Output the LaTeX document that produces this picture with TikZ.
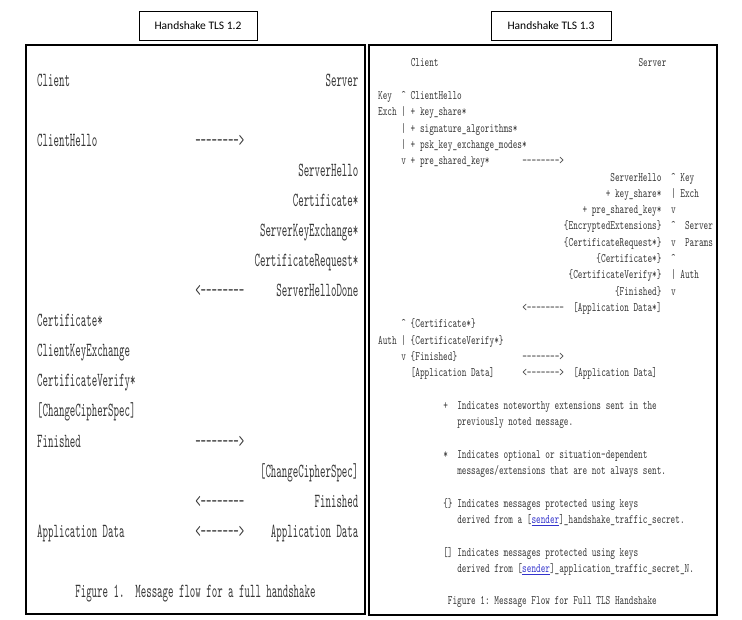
\documentclass[tikz,border=0pt]{standalone}
\usepackage{fontspec}
\usepackage{xcolor}
\usepackage{tikz}
\newfontfamily\leftmono[FakeStretch=0.52,Ligatures=TeXOff]{lmmono10-regular.otf}
\newfontfamily\rightmono[FakeStretch=0.68,Ligatures=TeXOff]{lmmono10-regular.otf}
\newfontfamily\titlesans{Carlito}
\definecolor{linkblue}{RGB}{51,51,204}
\definecolor{inkgray}{RGB}{55,55,55}

\begin{document}
\begin{tikzpicture}[%
  x=1pt, y=-1pt,
  every node/.style={inner sep=0pt},
  titlebox/.style={draw, line width=0.9pt, font=\titlesans\fontsize{11.5}{13}\selectfont, minimum height=29pt},
  panel/.style={draw, line width=2pt},
  ltxt/.style={font=\leftmono\fontsize{20}{20}\selectfont\frenchspacing, text=inkgray},
  rtxt/.style={font=\rightmono\fontsize{13}{13}\selectfont\frenchspacing, text=inkgray},
  lw/.style={anchor=base west},
  le/.style={anchor=base east}
]
\useasboundingbox (0,0) rectangle (742,620);

% Titles and panels
\node[titlebox, minimum width=118pt] (t12) at (198,25.5) {Handshake TLS 1.2};
\node[titlebox, minimum width=120pt] (t13) at (551,25.5) {Handshake TLS 1.3};
\draw[panel] (26,45) rectangle (365,614);
\draw[panel, line width=1.5pt] (369,45) rectangle (717,615);

% TLS 1.2 message flow
\begin{scope}[shift={(37,87)}, x=5.45pt, y=-30pt, every node/.append style={ltxt}]
\node[lw] (l-client) at (0,0) {Client};
\node[le] (l-server) at (59,0) {Server};
\node[lw] (l-chello) at (0,2) {ClientHello};
\node[lw] (l-a1) at (29,2) {-------->};
\node[le] (l-shello) at (59,3) {ServerHello};
\node[le] (l-scert) at (59,4) {Certificate*};
\node[le] (l-ske) at (59,5) {ServerKeyExchange*};
\node[le] (l-creq) at (59,6) {CertificateRequest*};
\node[lw] (l-a2) at (29,7) {<--------};
\node[le] (l-shdone) at (59,7) {ServerHelloDone};
\node[lw] (l-ccert) at (0,8) {Certificate*};
\node[lw] (l-cke) at (0,9) {ClientKeyExchange};
\node[lw] (l-cver) at (0,10) {CertificateVerify*};
\node[lw] (l-cccs) at (0,11) {[ChangeCipherSpec]};
\node[lw] (l-cfin) at (0,12) {Finished};
\node[lw] (l-a3) at (29,12) {-------->};
\node[le] (l-sccs) at (59,13) {[ChangeCipherSpec]};
\node[lw] (l-a4) at (29,14) {<--------};
\node[le] (l-sfin) at (59,14) {Finished};
\node[lw] (l-cdata) at (0,15) {Application Data};
\node[lw] (l-a5) at (29,15) {<------->};
\node[le] (l-sdata) at (59,15) {Application Data};
\node[lw] (l-fig) at (7,17) {Figure 1.~~Message flow for a full handshake};
\end{scope}

% TLS 1.3 message flow
\begin{scope}[shift={(378,67)}, x=4.65pt, y=-16.3pt, every node/.append style={rtxt}]
\node[lw] (r-client) at (7,0) {Client};
\node[lw] (r-server) at (56,0) {Server};
\node[lw] (r-key) at (0,2) {Key};
\node[lw] (r-chello) at (5,2) {\textasciicircum{} ClientHello};
\node[lw] (r-exch) at (0,3) {Exch};
\node[lw] (r-ks) at (5,3) {| + key\_share*};
\node[lw] (r-sig) at (5,4) {| + signature\_algorithms*};
\node[lw] (r-psk) at (5,5) {| + psk\_key\_exchange\_modes*};
\node[lw] (r-pre) at (5,6) {v + pre\_shared\_key*};
\node[lw] (r-a1) at (31,6) {-------->};
\node[le] (r-shello) at (61,7) {ServerHello};
\node[lw] (r-skey) at (63,7) {\textasciicircum{} Key};
\node[le] (r-sks) at (61,8) {+ key\_share*};
\node[lw] (r-sexch) at (63,8) {| Exch};
\node[le] (r-spre) at (61,9) {+ pre\_shared\_key*};
\node[lw] (r-sv1) at (63,9) {v};
\node[le] (r-ee) at (61,10) {\{EncryptedExtensions\}};
\node[lw] (r-sup1) at (63,10) {\textasciicircum};
\node[lw] (r-sparam1) at (66,10) {Server};
\node[le] (r-creq) at (61,11) {\{CertificateRequest*\}};
\node[lw] (r-sv2) at (63,11) {v};
\node[lw] (r-sparam2) at (66,11) {Params};
\node[le] (r-scert) at (61,12) {\{Certificate*\}};
\node[lw] (r-sup2) at (63,12) {\textasciicircum};
\node[le] (r-scv) at (61,13) {\{CertificateVerify*\}};
\node[lw] (r-sauth) at (63,13) {| Auth};
\node[le] (r-sfin) at (61,14) {\{Finished\}};
\node[lw] (r-sv3) at (63,14) {v};
\node[lw] (r-a2) at (31,15) {<--------};
\node[le] (r-sdata1) at (61,15) {[Application Data*]};
\node[lw] (r-ccert) at (5,16) {\textasciicircum{} \{Certificate*\}};
\node[lw] (r-cauth) at (0,17) {Auth};
\node[lw] (r-ccv) at (5,17) {| \{CertificateVerify*\}};
\node[lw] (r-cfin) at (5,18) {v \{Finished\}};
\node[lw] (r-a3) at (31,18) {-------->};
\node[lw] (r-cdata) at (7,19) {[Application Data]};
\node[lw] (r-a4) at (31,19) {<------->};
\node[lw] (r-sdata2) at (42,19) {[Application Data]};
% legend
\node[lw] (r-m1) at (14,21) {+};
\node[lw] (r-n1) at (17,21) {Indicates noteworthy extensions sent in the};
\node[lw] (r-n1b) at (17,22) {previously noted message.};
\node[lw] (r-m2) at (14,24) {*};
\node[lw] (r-n2) at (17,24) {Indicates optional or situation-dependent};
\node[lw] (r-n2b) at (17,25) {messages/extensions that are not always sent.};
\node[lw] (r-m3) at (14,27) {\{\}};
\node[lw] (r-n3) at (17,27) {Indicates messages protected using keys};
\node[lw] (r-n3b) at (17,28) {derived from a [{\color{linkblue}\underline{sender}}]\_handshake\_traffic\_secret.};
\node[lw] (r-m4) at (14,30) {[]};
\node[lw] (r-n4) at (17,30) {Indicates messages protected using keys};
\node[lw] (r-n4b) at (17,31) {derived from [{\color{linkblue}\underline{sender}}]\_application\_traffic\_secret\_N.};
\node[lw] (r-fig) at (15,33) {Figure 1: Message Flow for Full TLS Handshake};
\end{scope}

\end{tikzpicture}
\end{document}
